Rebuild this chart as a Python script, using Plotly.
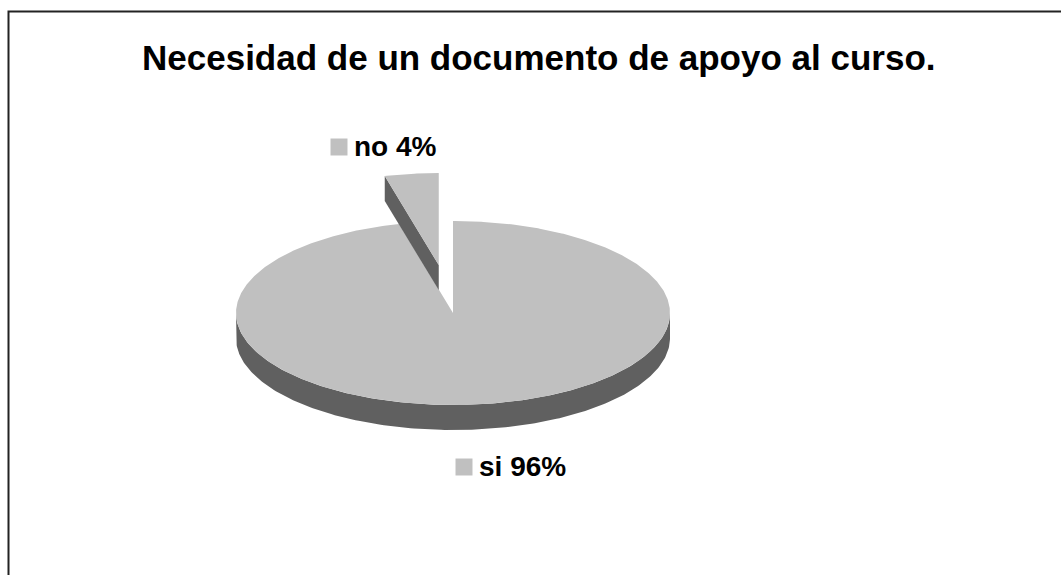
import numpy as np
import plotly.graph_objects as go

# ---- data ----
categories = ["si", "no"]
values = [96, 4]
title_text = "Necesidad de un documento de apoyo al curso."

# ---- layout / style constants (pixel frame) ----
W, H = 1061, 575
CX, CY = 453, 313          # centre of the pie's top face
RX, RY = 217, 92           # ellipse radii
DEPTH = 25                 # thickness of the pie
PULL = {"no": 0.525}       # exploded slice (fraction of radius)
TOP = "#C0C0C0"
SIDE = "#606060"
FONT = "Liberation Sans, Arial, sans-serif"
label_pos = {"si": (455, 466), "no": (330, 146)}

fig = go.Figure()

total = float(sum(values))
spans = []
start = 0.0
for c, v in zip(categories, values):
    ext = 360.0 * v / total
    spans.append((c, start, start + ext))
    start += ext


def pt(theta_deg, ox=0.0, oy=0.0, dz=0.0):
    t = np.radians(theta_deg)
    return CX + ox + RX * np.sin(t), CY + oy - RY * np.cos(t) + dz


def offset(c, a0, a1):
    p = PULL.get(c, 0.0)
    mid = np.radians((a0 + a1) / 2)
    return RX * p * np.sin(mid), -RY * p * np.cos(mid)


def add_poly(xs, ys, color):
    fig.add_trace(go.Scatter(x=xs, y=ys, mode="lines", fill="toself",
                             fillcolor=color, line=dict(width=0, color=color),
                             hoverinfo="skip", showlegend=False))


for c, a0, a1 in spans:
    ox, oy = offset(c, a0, a1)
    lo, hi = max(a0, 90), min(a1, 270)
    if hi > lo:
        th = np.linspace(lo, hi, 200)
        xt, yt = pt(th, ox, oy)
        xb, yb = pt(th[::-1], ox, oy, DEPTH)
        add_poly(list(xt) + list(xb), list(yt) + list(yb), SIDE)
    if c in PULL:
        ex, ey = pt(a0, ox, oy)
        add_poly([CX + ox, ex, ex, CX + ox],
                 [CY + oy, ey, ey + DEPTH, CY + oy + DEPTH], SIDE)
    th = np.linspace(a0, a1, max(3, int(a1 - a0) * 2))
    xt, yt = pt(th, ox, oy)
    add_poly([CX + ox] + list(xt) + [CX + ox], [CY + oy] + list(yt) + [CY + oy], TOP)

for c, v in zip(categories, values):
    lx, ly = label_pos[c]
    fig.add_trace(go.Scatter(x=[lx + 9], y=[ly + 1], mode="markers",
                             marker=dict(symbol="square", size=17, color=TOP),
                             hoverinfo="skip", showlegend=False))
    fig.add_annotation(x=lx + 22, y=ly, xref="x", yref="y", text=f"<b>{c} {v}%</b>",
                       showarrow=False, xanchor="left", yanchor="middle",
                       font=dict(family=FONT, size=28, color="black"))

fig.add_annotation(x=539, y=57, xref="x", yref="y", text=f"<b>{title_text}</b>",
                   showarrow=False, xanchor="center", yanchor="middle",
                   font=dict(family=FONT, size=35, color="black"))

fig.add_shape(type="rect", xref="paper", yref="paper",
              x0=8.5 / W, x1=1.02, y0=-0.02, y1=1 - 11.5 / H,
              line=dict(color="#222222", width=2), fillcolor="rgba(0,0,0,0)")

fig.update_layout(
    width=W, height=H, margin=dict(l=0, r=0, t=0, b=0),
    paper_bgcolor="white", plot_bgcolor="white",
    xaxis=dict(range=[0, W], visible=False, fixedrange=True),
    yaxis=dict(range=[H, 0], visible=False, fixedrange=True),
    showlegend=False,
)

fig.write_html("out.html")
